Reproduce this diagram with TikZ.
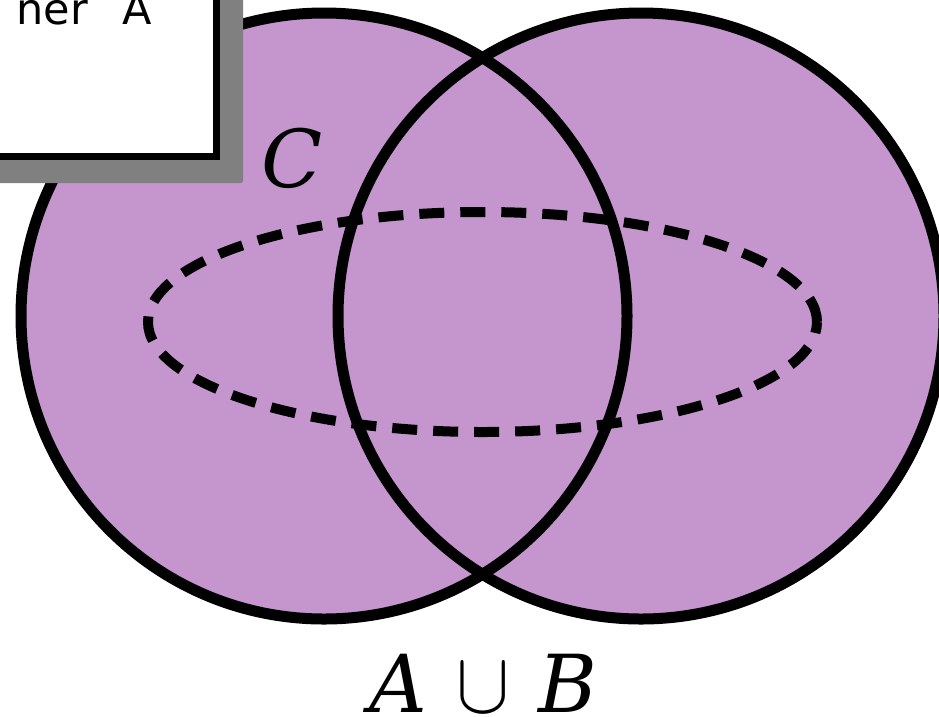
\documentclass[tikz,border=0pt]{standalone}
\usepackage{fontspec}
\usepackage{graphicx}
\setmainfont{DejaVu Serif}
\newfontfamily\boxfont{DejaVu Sans}
\definecolor{vennfill}{RGB}{196,150,205}
\definecolor{shadowgray}{RGB}{128,128,128}
\tikzset{
  setfill/.style={fill=vennfill},
  setline/.style={draw=black,line width=11pt},
  dashline/.style={draw=black,line width=10pt,dash pattern=on 25pt off 16pt},
  biglabel/.style={inner sep=0pt,font=\fontsize{80}{92}\selectfont},
}
\begin{document}
\begin{tikzpicture}[x=1pt,y=-1pt]
\useasboundingbox (0,0) rectangle (939,716);
\clip (0,0) rectangle (939,716);
% fills
\fill[setfill] (324,316) circle (303pt);
\fill[setfill] (641,316) circle (303pt);
% outlines
\draw[setline] (324,316) circle (303pt);
\draw[setline] (641,316) circle (303pt);
% dashed ellipse C
\draw[dashline] (482.5,322) ellipse [x radius=334.5pt, y radius=110pt];
% box with shadow
\fill[shadowgray, rounded corners=2pt] (-100,-100) rectangle (243,183);
\draw[fill=white, line width=7pt] (-100,-100) rectangle (216.5,156.5);
\node[anchor=base east, inner sep=0pt, font=\boxfont\fontsize{43}{50}\selectfont] (boxtext) at (152,24) {ner\hspace{0.8em}A};
% labels
\node[biglabel] (labC) at (292,158) {\itshape C};
\node[biglabel, anchor=base] (labAB) at (483,712) {\itshape A\hspace{30pt}\scalebox{8}[8.7]{\normalsize$\cup$}\hspace{28pt}B};
\end{tikzpicture}
\end{document}
